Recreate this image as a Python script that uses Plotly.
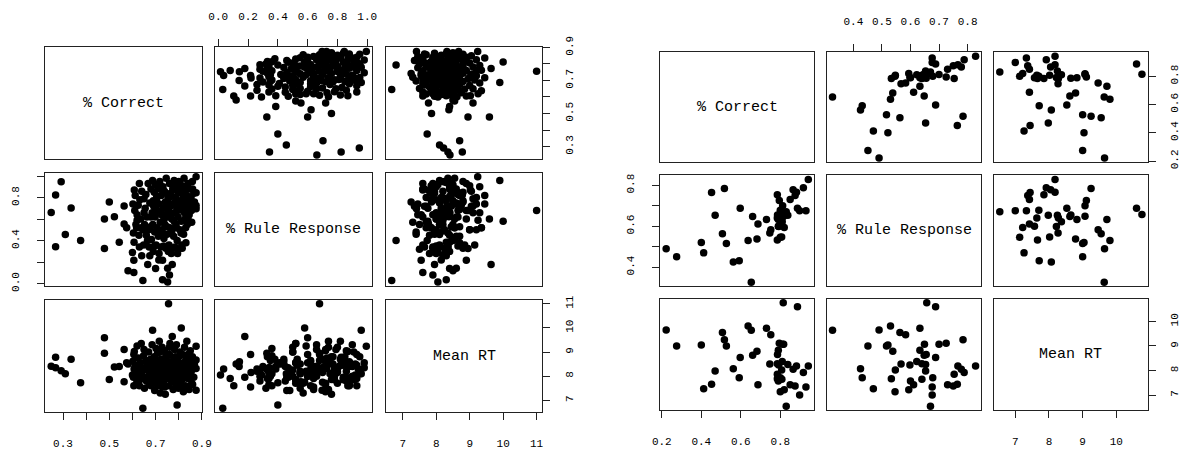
import plotly.graph_objects as go

# ---------------------------------------------------------------------------
# Variables shown in both scatterplot matrices
# ---------------------------------------------------------------------------
var_names = ["% Correct", "% Rule Response", "Mean RT"]

# Study 1 (left matrix)
left_correct = [
    0.249, 0.268, 0.268, 0.292, 0.310, 0.335, 0.376, 0.479, 0.479, 0.500,
    0.522, 0.543, 0.564, 0.564, 0.581, 0.575,
    0.600, 0.602, 0.604, 0.606, 0.606, 0.607, 0.608, 0.612, 0.615, 0.618,
    0.620, 0.625, 0.628, 0.630, 0.632, 0.635, 0.638, 0.640, 0.645, 0.645,
    0.648, 0.650, 0.652, 0.655, 0.658, 0.660, 0.662, 0.666, 0.668, 0.670,
    0.672, 0.675, 0.678, 0.680, 0.682, 0.685, 0.687, 0.688, 0.690, 0.692,
    0.694, 0.696, 0.698, 0.700, 0.702, 0.704, 0.706, 0.708, 0.710, 0.712,
    0.714, 0.716, 0.718, 0.720, 0.722, 0.724, 0.726, 0.728, 0.730, 0.730,
    0.732, 0.734, 0.736, 0.738, 0.740, 0.742, 0.744, 0.746, 0.748, 0.750,
    0.752, 0.752, 0.754, 0.756, 0.758, 0.760, 0.762, 0.764, 0.766, 0.768,
    0.770, 0.772, 0.774, 0.776, 0.778, 0.780, 0.782, 0.784, 0.786, 0.788,
    0.790, 0.792, 0.793, 0.795, 0.797, 0.799, 0.801, 0.803, 0.805, 0.807,
    0.809, 0.811, 0.813, 0.815, 0.817, 0.819, 0.821, 0.823, 0.825, 0.827,
    0.829, 0.831, 0.833, 0.835, 0.837, 0.840, 0.842, 0.845, 0.848, 0.850,
    0.853, 0.856, 0.859, 0.862, 0.865, 0.868, 0.875, 0.875, 0.875, 0.875,
    0.705, 0.715, 0.725, 0.735, 0.745, 0.755, 0.765, 0.775, 0.785, 0.795,
    0.805, 0.815, 0.825, 0.835, 0.845, 0.855, 0.710, 0.730, 0.750, 0.770,
    0.790, 0.810, 0.830, 0.690, 0.700, 0.720, 0.740, 0.760, 0.780, 0.800,
    0.820, 0.840, 0.860, 0.650, 0.665, 0.680, 0.695, 0.735, 0.775, 0.815,
    0.755, 0.795, 0.715, 0.675, 0.700, 0.760, 0.640, 0.620, 0.610, 0.630,
]
left_rule = [
    0.662, 0.825, 0.344, 0.947, 0.457, 0.703, 0.400, 0.600, 0.326, 0.760,
    0.623, 0.386, 0.721, 0.555, 0.120, 0.520,
    0.29, 0.74, 0.47, 0.217, 0.104, 0.386, 0.87, 0.82, 0.55, 0.52,
    0.59, 0.73, 0.45, 0.34, 0.78, 0.60, 0.52, 0.86, 0.03, 0.50,
    0.36, 0.79, 0.55, 0.70, 0.83, 0.45, 0.62, 0.178, 0.93, 0.50,
    0.34, 0.75, 0.53, 0.88, 0.41, 0.66, 0.96, 0.55, 0.30, 0.72,
    0.85, 0.48, 0.62, 0.92, 0.36, 0.78, 0.52, 0.68, 0.88, 0.44,
    0.22, 0.74, 0.95, 0.57, 0.34, 0.82, 0.64, 0.50, 0.217, 0.036,
    0.90, 0.70, 0.42, 0.86, 0.55, 0.76, 0.33, 0.98, 0.62, 0.46,
    0.015, 0.142, 0.80, 0.68, 0.36, 0.93, 0.52, 0.72, 0.84, 0.28,
    0.60, 0.178, 0.88, 0.74, 0.44, 0.96, 0.66, 0.34, 0.80, 0.55,
    0.90, 0.70, 0.40, 0.86, 0.62, 0.32, 0.77, 0.94, 0.50, 0.72,
    0.84, 0.58, 0.36, 0.91, 0.68, 0.79, 0.46, 0.98, 0.74, 0.60,
    0.87, 0.38, 0.70, 0.82, 0.55, 0.93, 0.75, 0.64, 0.88, 0.72,
    0.80, 0.57, 0.95, 0.70, 0.84, 0.76, 0.994, 0.846, 0.727, 0.697,
    0.81, 0.66, 0.88, 0.59, 0.84, 0.74, 0.63, 0.92, 0.76, 0.68,
    0.86, 0.77, 0.66, 0.90, 0.78, 0.68, 0.50, 0.47, 0.53, 0.49,
    0.52, 0.47, 0.52, 0.77, 0.69, 0.91, 0.64, 0.80, 0.58, 0.95,
    0.72, 0.60, 0.88, 0.66, 0.40, 0.62, 0.35, 0.35, 0.33, 0.33,
    0.30, 0.28, 0.28, 0.26, 0.14, 0.08, 0.26, 0.64, 0.68, 0.93,
]
left_rt = [
    8.41, 8.78, 8.35, 8.22, 8.10, 8.70, 7.73, 9.59, 8.95, 7.86,
    8.38, 8.40, 9.10, 7.77, 8.50, 8.55,
    8.05, 8.62, 7.95, 8.90, 7.60, 8.30, 9.02, 8.45, 8.15, 7.70,
    9.25, 8.75, 8.40, 8.10, 7.85, 8.55, 9.35, 8.20, 6.67, 8.00,
    8.85, 9.10, 7.50, 8.35, 8.65, 7.80, 8.25, 7.95, 8.45, 9.00,
    7.65, 8.10, 8.70, 7.90, 8.55, 9.30, 9.90, 8.20, 8.35, 7.70,
    8.80, 7.40, 8.05, 8.50, 9.15, 8.30, 7.85, 8.95, 7.60, 8.60,
    8.15, 9.45, 8.25, 7.30, 7.90, 8.70, 8.40, 9.20, 7.55, 8.30,
    8.00, 7.75, 8.50, 9.05, 8.10, 7.25, 8.80, 8.35, 8.65, 7.95,
    8.05, 8.60, 8.20, 11.0, 7.60, 8.90, 9.35, 8.45, 7.85, 8.25,
    8.00, 9.64, 8.55, 7.45, 8.70, 8.10, 9.10, 8.35, 7.70, 8.50,
    9.30, 8.15, 6.80, 7.95, 8.60, 7.50, 8.80, 8.30, 9.00, 7.65,
    8.45, 10.0, 8.10, 7.85, 8.90, 8.20, 7.40, 8.55, 9.20, 8.00,
    7.60, 8.70, 8.35, 9.45, 8.10, 7.90, 8.60, 7.45, 8.40, 9.05,
    8.15, 7.70, 8.80, 8.30, 7.95, 8.50, 9.24, 8.67, 8.32, 7.41,
    8.40, 8.00, 8.60, 8.20, 7.90, 8.55, 8.35, 8.05, 8.80, 8.25,
    7.80, 8.50, 8.15, 8.40, 8.00, 8.65, 8.25, 8.05, 8.45, 8.20,
    7.85, 8.35, 8.55, 8.15, 8.70, 9.00, 7.55, 9.20, 7.75, 8.10,
    7.35, 8.90, 7.65, 8.30, 8.50, 7.60, 8.00, 8.65, 7.90, 8.25,
    8.40, 8.00, 7.80, 8.20, 8.40, 7.90, 8.30, 7.90, 8.30, 7.60,
]

# Study 2 (right matrix)
right_correct = [
    0.222, 0.275, 0.400, 0.412, 0.452, 0.470, 0.507, 0.517, 0.527, 0.562,
    0.592, 0.597, 0.637, 0.653, 0.660, 0.682, 0.687, 0.730, 0.747, 0.752,
    0.785, 0.795, 0.812, 0.785, 0.790, 0.817, 0.830, 0.838, 0.792, 0.820,
    0.785, 0.807, 0.850, 0.865, 0.882, 0.875, 0.887, 0.898, 0.930, 0.917,
    0.942, 0.810, 0.815, 0.786, 0.808, 0.800, 0.800, 0.790,
]
right_rule = [
    0.490, 0.451, 0.521, 0.470, 0.764, 0.653, 0.563, 0.784, 0.516, 0.425,
    0.431, 0.688, 0.530, 0.327, 0.648, 0.538, 0.611, 0.633, 0.567, 0.583,
    0.753, 0.725, 0.700, 0.640, 0.633, 0.649, 0.670, 0.653, 0.598, 0.594,
    0.533, 0.547, 0.730, 0.778, 0.766, 0.750, 0.688, 0.676, 0.676, 0.788,
    0.828, 0.622, 0.657, 0.655, 0.640, 0.678, 0.546, 0.600,
]
right_rt = [
    9.65, 9.00, 9.04, 7.26, 7.44, 7.98, 9.55, 9.25, 9.00, 8.07,
    7.71, 8.53, 9.81, 9.64, 8.62, 8.79, 7.42, 9.72, 8.27, 9.46,
    7.85, 9.11, 9.07, 8.28, 8.83, 9.07, 6.54, 8.25, 8.22, 7.22,
    7.66, 8.02, 7.42, 8.05, 8.18, 7.37, 10.60, 7.00, 7.33, 7.92,
    8.18, 8.37, 10.76, 8.65, 7.64, 7.70, 7.13, 7.57,
]

# Tick positions and labels (x ticks for columns, y ticks for rows)
left_x_ticks = [
    ([0.3, 0.4, 0.5, 0.6, 0.7, 0.8, 0.9], ["0.3", "", "0.5", "", "0.7", "", "0.9"]),
    ([0.0, 0.2, 0.4, 0.6, 0.8, 1.0], ["0.0", "0.2", "0.4", "0.6", "0.8", "1.0"]),
    ([7, 8, 9, 10, 11], ["7", "8", "9", "10", "11"]),
]
left_y_ticks = [
    ([0.3, 0.4, 0.5, 0.6, 0.7, 0.8, 0.9], ["0.3", "", "0.5", "", "0.7", "", "0.9"]),
    ([0.0, 0.2, 0.4, 0.6, 0.8, 1.0], ["0.0", "", "0.4", "", "0.8", ""]),
    ([7, 8, 9, 10, 11], ["7", "8", "9", "10", "11"]),
]
right_x_ticks = [
    ([0.2, 0.4, 0.6, 0.8], ["0.2", "0.4", "0.6", "0.8"]),
    ([0.4, 0.5, 0.6, 0.7, 0.8], ["0.4", "0.5", "0.6", "0.7", "0.8"]),
    ([7, 8, 9, 10], ["7", "8", "9", "10"]),
]
right_y_ticks = [
    ([0.2, 0.4, 0.6, 0.8], ["0.2", "0.4", "0.6", "0.8"]),
    ([0.4, 0.5, 0.6, 0.7, 0.8], ["0.4", "", "0.6", "", "0.8"]),
    ([7, 8, 9, 10], ["7", "8", "9", "10"]),
]

# ---------------------------------------------------------------------------
# Layout geometry (pixels)
# ---------------------------------------------------------------------------
W, H = 1196, 450
matrices = [
    dict(
        data=[left_correct, left_rule, left_rt],
        xticks=left_x_ticks, yticks=left_y_ticks,
        cols=[(37, 196), (209, 369), (383, 542)],
        rows=[(37, 154), (168, 287), (301, 419)],
    ),
    dict(
        data=[right_correct, right_rule, right_rt],
        xticks=right_x_ticks, yticks=right_y_ticks,
        cols=[(662, 818), (831, 988), (1001, 1157)],
        rows=[(42, 157), (171, 287), (300, 417)],
    ),
]

FONT = "Liberation Mono"
LINE = "#222222"
STANDOFF = {"top": 15, "bottom": 13, "left": 14, "right": 9}


def padded_range(values):
    lo, hi = min(values), max(values)
    pad = 0.04 * (hi - lo)
    return [lo - pad, hi + pad]


fig = go.Figure()
layout = {}
annotations = []

k = 0
for m in matrices:
    ranges = [padded_range(v) for v in m["data"]]
    for i in range(3):
        for j in range(3):
            k += 1
            xa = "xaxis" if k == 1 else f"xaxis{k}"
            ya = "yaxis" if k == 1 else f"yaxis{k}"
            xr = "x" if k == 1 else f"x{k}"
            yr = "y" if k == 1 else f"y{k}"

            x0, x1 = m["cols"][j]
            y0, y1 = m["rows"][i]

            xaxis = dict(
                domain=[x0 / W, x1 / W], range=ranges[j], anchor=yr,
                showline=True, mirror=True, linecolor=LINE, linewidth=1,
                showgrid=False, zeroline=False, fixedrange=True,
                tickfont=dict(family=FONT, size=11, color="#000"),
            )
            yaxis = dict(
                domain=[1 - y1 / H, 1 - y0 / H], range=ranges[i], anchor=xr,
                showline=True, mirror=True, linecolor=LINE, linewidth=1,
                showgrid=False, zeroline=False, fixedrange=True,
                tickfont=dict(family=FONT, size=11, color="#000"),
            )

            # column axis: bottom for outer columns, top for the middle one
            show_x = (j in (0, 2) and i == 2) or (j == 1 and i == 0)
            if show_x:
                tv, tt = m["xticks"][j]
                side = "bottom" if j != 1 else "top"
                xaxis.update(
                    side=side,
                    ticks="outside", ticklen=7, tickwidth=1, tickcolor=LINE,
                    tickvals=tv, ticktext=tt, showticklabels=True,
                    ticklabelstandoff=STANDOFF[side],
                )
            else:
                xaxis.update(ticks="", showticklabels=False)

            # row axis: left for the middle row, right for outer rows
            show_y = (i == 1 and j == 0) or (i in (0, 2) and j == 2)
            if show_y:
                tv, tt = m["yticks"][i]
                side = "left" if i == 1 else "right"
                yaxis.update(
                    side=side,
                    ticks="outside", ticklen=7, tickwidth=1, tickcolor=LINE,
                    tickvals=tv, ticktext=tt, showticklabels=True,
                    tickangle=-90, ticklabelstandoff=STANDOFF[side],
                )
            else:
                yaxis.update(ticks="", showticklabels=False)

            layout[xa] = xaxis
            layout[ya] = yaxis

            if i == j:
                fig.add_trace(go.Scatter(x=[], y=[], xaxis=xr, yaxis=yr,
                                         mode="markers", showlegend=False))
                annotations.append(dict(
                    text=var_names[i], x=0.5, y=0.5,
                    xref=f"{xr} domain", yref=f"{yr} domain",
                    showarrow=False,
                    font=dict(family=FONT, size=15, color="#000"),
                ))
            else:
                fig.add_trace(go.Scatter(
                    x=m["data"][j], y=m["data"][i], xaxis=xr, yaxis=yr,
                    mode="markers", showlegend=False, hoverinfo="skip",
                    marker=dict(size=7.5, color="#000", line=dict(width=0)),
                    cliponaxis=False,
                ))

fig.update_layout(
    width=W, height=H, autosize=False,
    margin=dict(l=0, r=0, t=0, b=0),
    paper_bgcolor="white", plot_bgcolor="white",
    annotations=annotations,
    **layout,
)

fig.write_html("out.html")
